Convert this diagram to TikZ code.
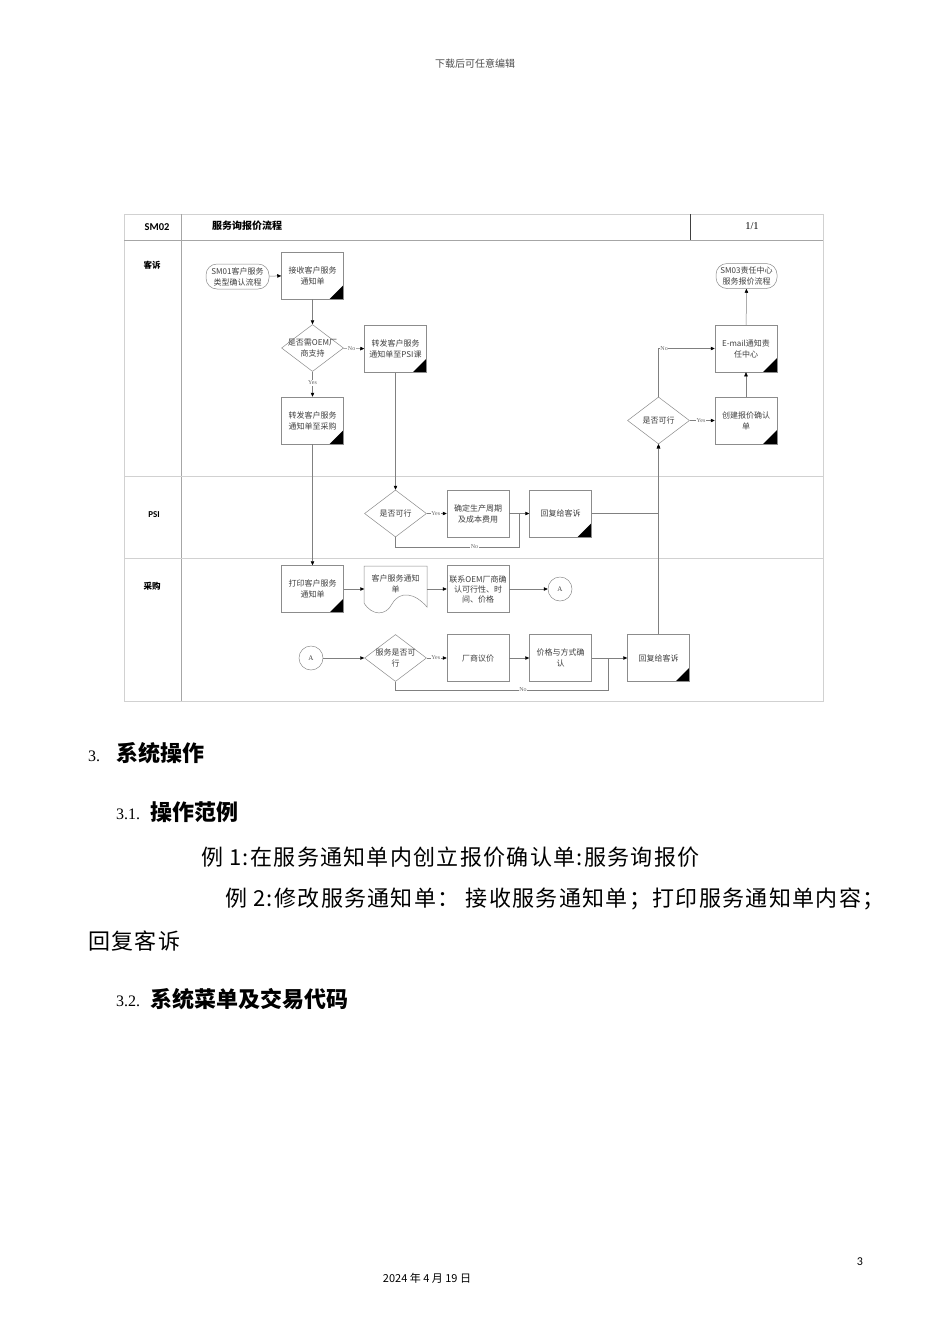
\documentclass[tikz,border=0pt]{standalone}
\usepackage{fontspec}
\setmainfont{Liberation Serif}
\setsansfont{Carlito}
\newfontfamily\cjk{Noto Sans CJK SC}
\newfontfamily\cjkbody{Noto Sans CJK SC}[LetterSpace=6]
\usetikzlibrary{arrows.meta,shapes.geometric}

\begin{document}
\begin{tikzpicture}[x=1pt, y=-1pt,
  lanerule/.style={draw=black!18, line width=0.6pt},
  box/.style={draw=black!45, line width=0.5pt, minimum width=62pt, minimum height=47pt, inner sep=1pt, align=center, text=black!75, font=\cjk\fontsize{8}{11}\selectfont},
  proc/.style={box, path picture={\fill[black] (path picture bounding box.south east) -- ++(-14pt,0pt) -- ++(14pt,14pt) -- cycle;}},
  term/.style={box, rounded corners=11pt, minimum height=25pt},
  decide/.style={box, diamond, minimum width=62pt, minimum height=47pt, inner sep=0pt},
  conn/.style={box, circle, minimum width=24pt, minimum height=24pt, font=\fontsize{7}{7}\selectfont},
  link/.style={draw=black!50, line width=0.5pt},
  flow/.style={link, -{Triangle[length=4pt,width=3.5pt,color=black]}},
  tag/.style={font=\fontsize{6}{6}\selectfont, text=black!60, fill=white, inner sep=0.6pt},
  lanetext/.style={font=\cjk\bfseries\fontsize{8.5}{8.5}\selectfont},
  bodytext/.style={anchor=west, inner sep=0pt, font=\cjkbody\fontsize{22}{22}\selectfont},
  headtext/.style={anchor=west, inner sep=0pt, font=\cjk\bfseries\fontsize{22}{22}\selectfont},
  numtext/.style={anchor=west, inner sep=0pt, font=\fontsize{16}{16}\selectfont}]
\useasboundingbox[fill=white] (0,0) rectangle (950,1344);
\node[font=\cjk\fontsize{10}{10}\selectfont, text=black!70] (top) at (475,64) {下载后可任意编辑};
\draw[lanerule] (124,214) rectangle (823,701);
\draw[draw=black!35, line width=0.6pt] (124,240) -- (823,240);
\draw[draw=black!35, line width=0.6pt] (181,214) -- (181,701);
\draw[draw=black!75, line width=0.6pt] (690,214) -- (690,240);
\draw[lanerule] (124,476) -- (823,476);
\draw[lanerule] (124,558) -- (823,558);
\node[font=\sffamily\bfseries\fontsize{10.5}{10.5}\selectfont] (code) at (157,227) {SM02};
\node[font=\cjk\bfseries\fontsize{10}{10}\selectfont, anchor=west, inner sep=0pt] (title) at (212,226) {服务询报价流程};
\node[font=\fontsize{10.5}{10.5}\selectfont] (page) at (752,226) {1/1};
\node[lanetext] (lane1) at (152,265) {客诉};
\node[lanetext, font=\sffamily\bfseries\fontsize{9}{9}\selectfont] (lane2) at (154,515) {PSI};
\node[lanetext] (lane3) at (152,586) {采购};
\node[term, minimum width=63pt] (sm01) at (237.5,276.5) {SM01客户服务\\类型确认流程};
\node[proc] (recv) at (312.5,275.5) {接收客户服务\\通知单};
\node[decide, label={[box, draw=none, inner sep=0pt]center:是否需OEM厂\\商支持}] (d1) at (312.5,348) {};
\node[proc] (psifwd) at (395.5,349) {转发客户服务\\通知单至PSI课};
\node[proc] (purfwd) at (312.5,420.5) {转发客户服务\\通知单至采购};
\node[decide, label={[box, draw=none, inner sep=0pt]center:是否可行}] (d2) at (395.5,513.5) {};
\node[box] (cost) at (478,513.5) {确定生产周期\\及成本费用};
\node[proc] (reply1) at (560.5,513.5) {回复给客诉};
\node[proc] (print) at (312.5,589) {打印客户服务\\通知单};
\node[box, draw=none] (doc) at (395.5,589) {客户服务通知\\单\\ \mbox{}};
\draw[draw=black!45, line width=0.5pt] (364,566) -- (427,566) -- (427,607) .. controls (415,593) and (400,590) .. (392,604) .. controls (386,616) and (372,616) .. (364,603) -- cycle;
\node[box, font=\cjk\fontsize{8}{10}\selectfont] (contact) at (478,589) {联系OEM厂商确\\认可行性、时\\间、价格};
\node[conn] (a1) at (560,589) {A};
\node[conn] (a2) at (311,658) {A};
\node[decide, label={[box, draw=none, inner sep=0pt]center:服务是否可\\行}] (d3) at (395.5,658) {};
\node[box] (nego) at (478,658) {厂商议价};
\node[box] (confirm) at (560.5,658) {价格与方式确\\认};
\node[proc] (reply2) at (658.5,658) {回复给客诉};
\node[decide, label={[box, draw=none, inner sep=0pt]center:是否可行}] (d4) at (658.5,420.5) {};
\node[proc] (quote) at (746,420.5) {创建报价确认\\单};
\node[proc] (email) at (746,348.5) {E-mail通知责\\任中心};
\node[term, minimum width=61pt] (sm03) at (746.5,276) {SM03责任中心\\服务报价流程};
\coordinate (n2) at (519,547);
\coordinate (n3) at (608,690);
\draw[flow] (sm01) -- (recv);
\draw[flow] (recv) -- (d1);
\draw[flow] (d1) -- node[tag, pos=0.4] {No} (psifwd);
\draw[flow] (d1) -- node[tag, pos=0.45] {Yes} (purfwd);
\draw[flow] (psifwd) -- (d2);
\draw[flow] (purfwd) -- (print);
\draw[flow] (d2) -- node[tag, pos=0.45] {Yes} (cost);
\draw[flow] (cost) -- (reply1);
\draw[link] (d2.south) |- node[tag, pos=0.82] {No} (n2) -- (n2 |- reply1);
\draw[flow] (reply1) -| (d4);
\draw[flow] (reply2) -- (d4);
\draw[flow] (d4) -- node[tag, pos=0.45] {Yes} (quote);
\draw[flow] (quote) -- (email);
\draw[flow] (email) -- (sm03);
\draw[flow] (d4.north) |- node[tag, pos=0.55] {No} (email);
\draw[flow] (print) -- (doc);
\draw[flow] (doc) -- (contact);
\draw[flow] (contact) -- (a1);
\draw[flow] (a2) -- (d3);
\draw[flow] (d3) -- node[tag, pos=0.45] {Yes} (nego);
\draw[flow] (nego) -- (confirm);
\draw[flow] (confirm) -- (reply2);
\draw[link] (d3.south) |- node[tag, pos=0.8] {No} (n3) -- (n3 |- reply2);
\node[numtext] (s3) at (88,756) {3.};
\node[headtext] (h3) at (116,753) {系统操作};
\node[numtext] (s31) at (116,814) {3.1.};
\node[headtext] (h31) at (150,812) {操作范例};
\node[bodytext] (ex1) at (201,857) {例 1:在服务通知单内创立报价确认单:服务询报价};
\node[bodytext] (ex2) at (225,899) {例 2:修改服务通知单： 接收服务通知单；打印服务通知单内容；};
\node[bodytext] (ex2b) at (88,941) {回复客诉};
\node[numtext] (s32) at (116,1001) {3.2.};
\node[headtext] (h32) at (150,999) {系统菜单及交易代码};
\node[font=\sffamily\fontsize{12}{12}\selectfont] (pnum) at (860,1262) {3};
\node[font=\cjk\fontsize{11}{11}\selectfont] (date) at (427,1278) {2024 年 4 月 19 日};
\end{tikzpicture}
\end{document}
